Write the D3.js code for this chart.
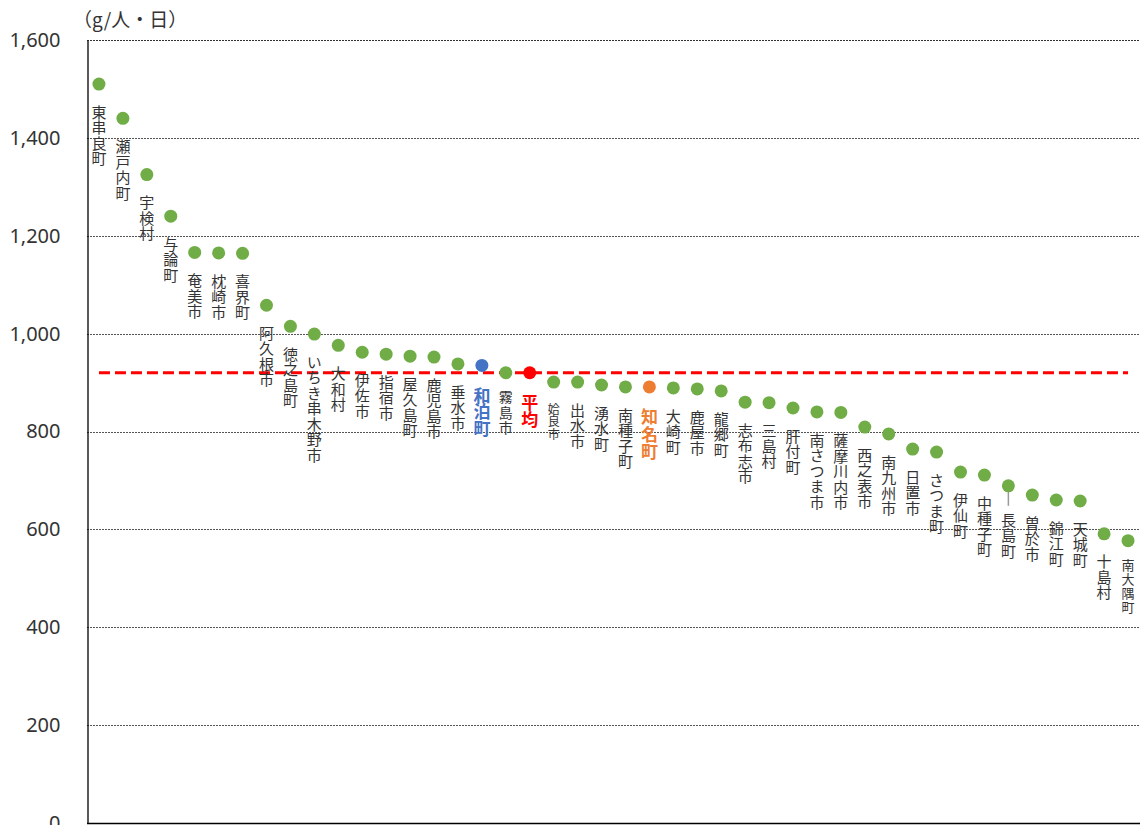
<!DOCTYPE html>
<html>
<head>
<meta charset="utf-8">
<script src="https://cdn.jsdelivr.net/npm/d3@7"></script>
<style>
  body { margin: 0; background: #fff; }
  svg { display: block; font-family: "Noto Sans CJK JP", "Noto Sans", sans-serif; }
</style>
</head>
<body>
<div id="chart"></div>
<script>
// municipalities, sorted by daily waste per person (g/人・日)
const names = [
  '東串良町', '瀬戸内町', '宇検村', '与論町', '奄美市', '枕崎市', '喜界町', '阿久根市',
  '徳之島町', 'いちき串木野市', '大和村', '伊佐市', '指宿市', '屋久島町', '鹿児島市', '垂水市',
  '和泊町', '霧島市', '平均', '姶良市', '出水市', '湧水町', '南種子町', '知名町',
  '大崎町', '鹿屋市', '龍郷町', '志布志市', '三島村', '肝付町', '南さつま市', '薩摩川内市',
  '西之表市', '南九州市', '日置市', 'さつま町', '伊仙町', '中種子町', '長島町', '曽於市',
  '錦江町', '天城町', '十島村', '南大隅町'
];
const values = [
  1510, 1440, 1325, 1240, 1166, 1165, 1164, 1058,
  1015, 999, 976, 962, 958, 954, 952, 938,
  935, 920, 920, 901, 901, 895, 891, 891,
  889, 887, 883, 860, 859, 848, 840, 839,
  809, 795, 764, 758, 717, 711, 689, 670,
  660, 658, 591, 577
];
const averageValue = 920;
const yTicks = [0, 200, 400, 600, 800, 1000, 1200, 1400, 1600];
const unitLabel = '（g/人・日）';

const W = 1140, H = 825;
const margin = { top: 40, right: 0, bottom: 2, left: 87 };

const svg = d3.select('#chart').append('svg')
  .attr('width', W)
  .attr('height', H);

const x = d3.scalePoint()
  .domain(names)
  .range([margin.left, W - margin.right])
  .padding(0.5);

const y = d3.scaleLinear()
  .domain([0, 1600])
  .range([H - margin.bottom, margin.top]);

/* ---------- grid lines ---------- */
svg.append('g').selectAll('line')
  .data(yTicks.filter(d => d > 0))
  .enter().append('line')
  .attr('x1', margin.left)
  .attr('x2', W)
  .attr('y1', d => Math.round(y(d)) + 0.5)
  .attr('y2', d => Math.round(y(d)) + 0.5)
  .attr('stroke', d => d === 1600 ? '#333' : '#555')
  .attr('stroke-width', 1)
  .attr('stroke-dasharray', '2,1');

/* ---------- axes ---------- */
const yAxis = d3.axisLeft(y)
  .tickValues(yTicks)
  .tickSize(0)
  .tickPadding(27)
  .tickFormat(d3.format(','));

const gy = svg.append('g')
  .attr('transform', 'translate(' + (margin.left + 0.5) + ',0)')
  .call(yAxis);
gy.select('.domain').attr('stroke', '#000').attr('stroke-width', 1.3);
gy.selectAll('text')
  .attr('fill', '#333')
  .style('font-size', '20px')
  .style('font-family', '"Noto Sans", "DejaVu Sans", sans-serif');

svg.append('line')
  .attr('x1', margin.left)
  .attr('x2', W)
  .attr('y1', y(0) + 0.5)
  .attr('y2', y(0) + 0.5)
  .attr('stroke', '#000')
  .attr('stroke-width', 1.3);

svg.append('text')
  .attr('x', 73)
  .attr('y', 27)
  .attr('fill', '#333')
  .style('font-size', '19px')
  .text(unitLabel);

/* ---------- average line ---------- */
const avgLine = d3.line()
  .x(d => x(d))
  .y(() => y(averageValue));

svg.append('path')
  .datum(names)
  .attr('d', avgLine)
  .attr('fill', 'none')
  .attr('stroke', '#FF0000')
  .attr('stroke-width', 3)
  .attr('stroke-dasharray', '11,5');

/* ---------- points ---------- */
const special = {
  '和泊町': { color: '#4472C4', size: 17, bold: true, gap: 16.5, off: 30 },
  '平均': { color: '#FF0000', size: 17, bold: true, gap: 17, off: 30 },
  '知名町': { color: '#ED7D31', size: 17, bold: true, gap: 17.5, off: 30 },
  '姶良市': { size: 12, gap: 12.5, off: 27 },
  '南大隅町': { size: 13, gap: 14, off: 24 },
  '霧島市': { size: 14, gap: 15.5, off: 24 },
  '長島町': { off: 34, leader: true }
};
const dflt = { color: '#70AD47', labelColor: '#333', size: 15, bold: false, gap: 15.5, off: 28 };

const data = names.map((n, i) => {
  const s = Object.assign({}, dflt, special[n] || {});
  if (special[n] && special[n].color) s.labelColor = special[n].color;
  return { name: n, value: values[i], style: s };
});

const pt = svg.append('g').selectAll('g')
  .data(data)
  .enter().append('g')
  .attr('transform', d => 'translate(' + x(d.name) + ',' + y(d.value) + ')');

pt.filter(d => d.style.leader)
  .append('line')
  .attr('x1', 0).attr('x2', 0)
  .attr('y1', 2).attr('y2', 20)
  .attr('stroke', '#999')
  .attr('stroke-width', 1.5);

pt.append('circle')
  .attr('r', 6.5)
  .attr('fill', d => d.style.color);

/* ---------- vertical labels ---------- */
pt.append('text')
  .attr('x', 0)
  .attr('y', d => d.style.off - d.style.size / 2)
  .attr('fill', d => d.style.labelColor)
  .attr('font-weight', d => d.style.bold ? 'bold' : 'normal')
  .style('writing-mode', 'vertical-rl')
  .style('text-orientation', 'upright')
  .style('font-size', d => d.style.size + 'px')
  .style('letter-spacing', d => (d.style.gap - d.style.size) + 'px')
  .text(d => d.name);
</script>
</body>
</html>
